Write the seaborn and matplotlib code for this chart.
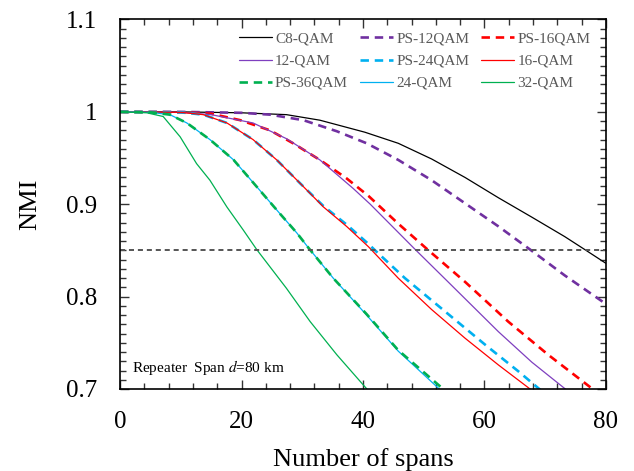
import matplotlib
matplotlib.use("Agg")
import matplotlib.pyplot as plt
from matplotlib.ticker import MultipleLocator
import seaborn as sns
import pandas as pd

# ---- data ----
c8_x   = [0, 10, 20, 27.4, 32.9, 40.3, 45.8, 51.3, 56.8, 62.3, 67.8, 73.2, 76.5, 80]
c8_y   = [1.0, 1.0, 0.999, 0.997, 0.991, 0.978, 0.966, 0.949, 0.929, 0.907, 0.886,
          0.865, 0.851, 0.836]

ps12_x = [0, 10, 20, 24.7, 30.2, 35.7, 40.6, 45.8, 51.3, 56.8, 62.3, 67.5, 73.2, 80]
ps12_y = [1.0, 1.0, 0.999, 0.997, 0.991, 0.979, 0.966, 0.948, 0.926, 0.901, 0.876,
          0.851, 0.823, 0.792]

ps16_x = [0, 10, 15, 19.8, 24.7, 28.5, 32.9, 37.3, 40.9, 45.8, 50.8, 56.8, 63.9,
          70.5, 77.6, 80]
ps16_y = [1.0, 0.9995, 0.998, 0.991, 0.980, 0.966, 0.948, 0.928, 0.909, 0.879,
          0.850, 0.816, 0.773, 0.737, 0.701, 0.689]

q12_x  = [0, 10, 15, 21.9, 27.4, 32.9, 38.4, 41.2, 48.6, 54, 62.3, 67.8, 73.5, 80]
q12_y  = [1.0, 0.9995, 0.997, 0.988, 0.971, 0.948, 0.917, 0.900, 0.851, 0.816,
          0.762, 0.729, 0.699, 0.67]

ps24_x = [0, 10, 13.7, 17.6, 21.9, 25.8, 29.6, 33.5, 37.3, 40.9, 42, 46.9, 53.5,
          60.1, 65.6, 69.2, 75]
ps24_y = [1.0, 0.9995, 0.997, 0.988, 0.970, 0.948, 0.923, 0.898, 0.878, 0.857,
          0.850, 0.820, 0.784, 0.748, 0.719, 0.699, 0.67]

q16_x  = [0, 10, 13.7, 17.6, 21.9, 25.8, 29.6, 33.5, 37.3, 40.9, 45.8, 51.3, 56.8,
          62.3, 67.5, 72]
q16_y  = [1.0, 0.9995, 0.997, 0.988, 0.970, 0.948, 0.923, 0.897, 0.876, 0.854,
          0.820, 0.786, 0.755, 0.726, 0.700, 0.678]

q24_x  = [0, 5, 8.2, 11, 14.8, 18.7, 22.5, 26.3, 29.1, 31, 35.1, 40.6, 45.8, 52.4, 56]
q24_y  = [1.0, 0.9995, 0.997, 0.988, 0.970, 0.948, 0.919, 0.890, 0.869, 0.853,
          0.820, 0.780, 0.741, 0.701, 0.68]

ps36_x = [0, 5, 8.2, 11, 14.8, 18.7, 22.5, 26.3, 29.1, 31, 35.1, 40.6, 45.8, 53.2, 56]
ps36_y = [1.0, 0.9995, 0.997, 0.988, 0.970, 0.948, 0.919, 0.890, 0.869, 0.853,
          0.820, 0.781, 0.742, 0.700, 0.683]

q32_x  = [0, 4.4, 7.1, 9.9, 12.6, 14.8, 17.6, 20.3, 22.5, 27.4, 31.3, 35.7, 40.1, 42]
q32_y  = [1.0, 0.999, 0.995, 0.973, 0.944, 0.926, 0.897, 0.872, 0.851, 0.809,
          0.773, 0.737, 0.704, 0.69]

threshold = 0.85
legend_order = ["C8-QAM", "PS-12QAM", "PS-16QAM",
                "12-QAM", "PS-24QAM", "16-QAM",
                "PS-36QAM", "24-QAM", "32-QAM"]

# ---- styling ----
sns.set_theme(style="ticks")
plt.rcParams["font.family"] = ["Liberation Serif", "DejaVu Serif"]
plt.rcParams["mathtext.fontset"] = "stix"

fig = plt.figure(figsize=(6.34, 4.71), dpi=100)
ax = fig.add_axes([0.1893, 0.1741, 0.9558 - 0.1893, 0.9586 - 0.1741])

dash = (0, (3.2, 2.2))
series = [
    ("C8-QAM",   c8_x,   c8_y,   "#000000", "-",  0.9),
    ("PS-12QAM", ps12_x, ps12_y, "#7030A0", dash, 1.9),
    ("PS-16QAM", ps16_x, ps16_y, "#FF0000", dash, 1.9),
    ("12-QAM",   q12_x,  q12_y,  "#7F3FBF", "-",  0.9),
    ("PS-24QAM", ps24_x, ps24_y, "#00B0F0", dash, 1.9),
    ("16-QAM",   q16_x,  q16_y,  "#FF0000", "-",  0.9),
    ("24-QAM",   q24_x,  q24_y,  "#00B0F0", "-",  0.9),
    ("PS-36QAM", ps36_x, ps36_y, "#00B050", dash, 1.9),
    ("32-QAM",   q32_x,  q32_y,  "#00B050", "-",  0.9),
]
for name, xs, ys, col, ls, lw in series:
    df = pd.DataFrame({"x": xs, "y": ys})
    sns.lineplot(data=df, x="x", y="y", ax=ax, color=col, linestyle=ls,
                 linewidth=lw, label=name, estimator=None, sort=True)

ax.axhline(threshold, color="#555555", linestyle=(0, (2.6, 2.0)), linewidth=1.4)

ax.set_xlim(0, 80)
ax.set_ylim(0.7, 1.1)
ax.xaxis.set_minor_locator(MultipleLocator(4))
ax.yaxis.set_minor_locator(MultipleLocator(0.01))
ax.set_xticks([0, 20, 40, 60, 80])
ax.set_xticklabels(["0", "20", "40", "60", "80"])
ax.set_yticks([0.7, 0.8, 0.9, 1.0, 1.1])
ax.set_yticklabels(["0.7", "0.8", "0.9", "1", "1.1"])

ax.tick_params(which="both", direction="in", top=True, right=True,
               color="#333333", width=1.0)
ax.tick_params(which="major", length=6.5, labelsize=18, labelcolor="black")
ax.tick_params(axis="x", which="major", pad=16)
ax.tick_params(axis="y", which="major", pad=16.5)
ax.tick_params(which="minor", length=4.5)
for s in ax.spines.values():
    s.set_color("black")
    s.set_linewidth(1.2)

ax.set_xlabel("Number of spans", fontsize=19, labelpad=11, color="black")
ax.set_ylabel("NMI", fontsize=19, labelpad=18, color="black")

ax.text(1.9, 0.7186, "Repeater  Span $\\it{d}$=80 km", fontsize=11,
        ha="left", va="baseline", color="black")

handles, labels = ax.get_legend_handles_labels()
hmap = dict(zip(labels, handles))
# matplotlib fills legend columns first; reorder so rows read as in the figure
ncol = 3
col_major = [legend_order[r * ncol + c] for c in range(ncol) for r in range(3)]
leg = ax.legend([hmap[k] for k in col_major], col_major, ncol=ncol,
                loc="upper left", bbox_to_anchor=(0.245, 0.966),
                frameon=False, fontsize=11, handlelength=2.15,
                handletextpad=0.2, columnspacing=0.8, labelspacing=0.55,
                borderpad=0.0, borderaxespad=0.0)
for t in leg.get_texts():
    t.set_color("#595959")

fig.savefig("out.png", dpi=100)
